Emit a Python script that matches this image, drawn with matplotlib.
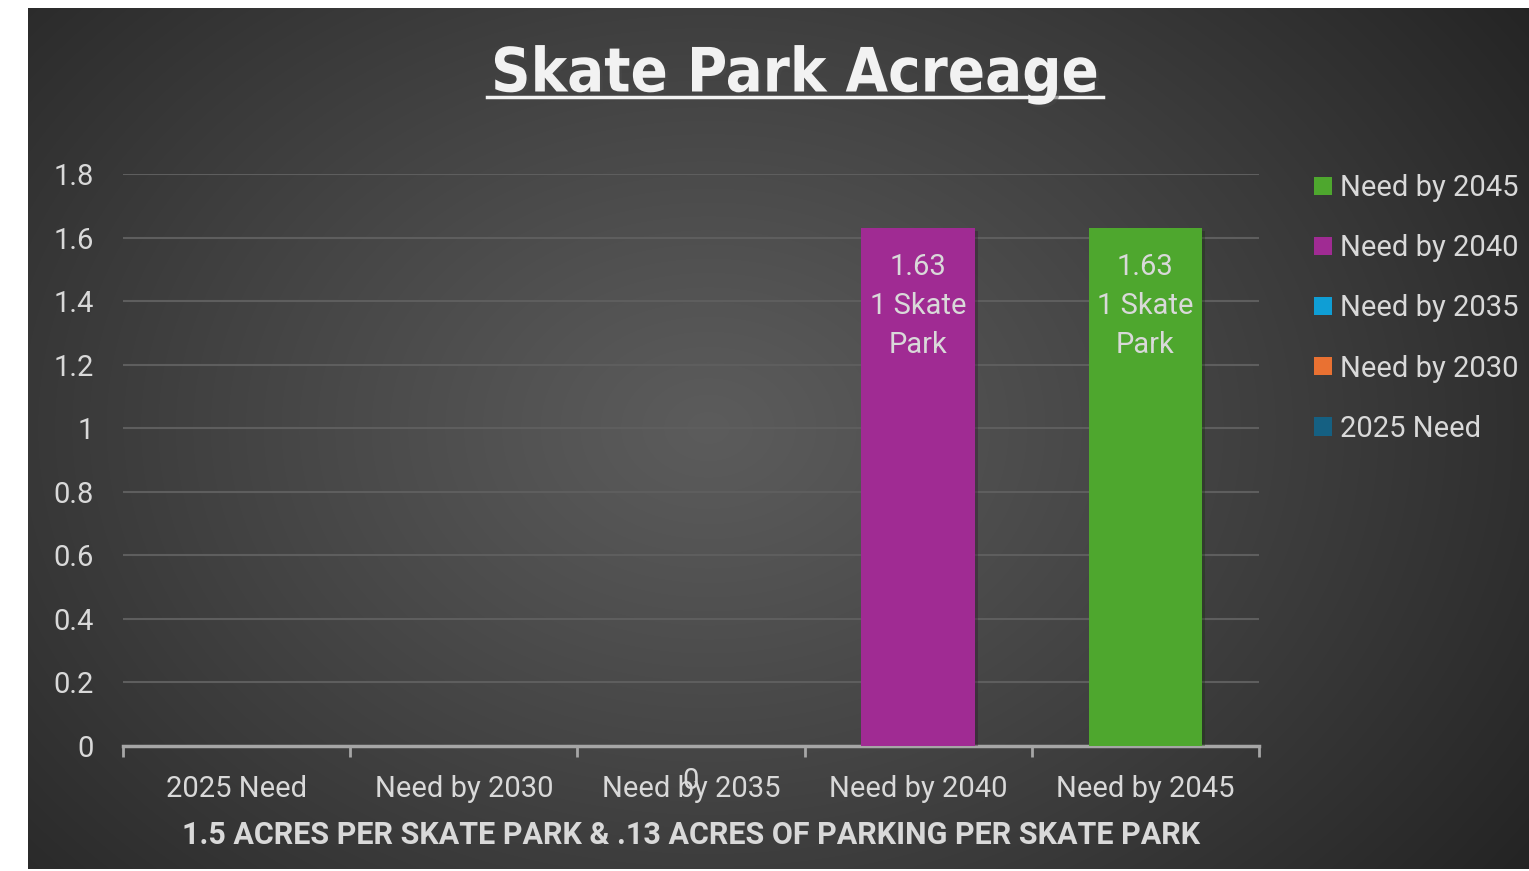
import numpy as np
import matplotlib
matplotlib.use("Agg")
import matplotlib.pyplot as plt
import matplotlib.patheffects as pe
from matplotlib.patches import Patch

# chart data
categories = ['2025 Need', 'Need by 2030', 'Need by 2035', 'Need by 2040', 'Need by 2045']
series_names = ['2025 Need', 'Need by 2030', 'Need by 2035', 'Need by 2040', 'Need by 2045']
series_values = [0, 0, 0, 1.63, 1.63]
series_colors = ['#156082', '#E97132', '#0F9ED5', '#A02B93', '#4EA72E']
bar_labels = ['', '', '0', '1.63\n1 Skate\nPark', '1.63\n1 Skate\nPark']
y_ticks = [0, 0.2, 0.4, 0.6, 0.8, 1, 1.2, 1.4, 1.6, 1.8]

plt.rcParams['font.family'] = ['Roboto', 'DejaVu Sans']
txt = '#d9d9d9'
W, H = 1529, 871
fig = plt.figure(figsize=(W / 100, H / 100), dpi=100)
fig.patch.set_facecolor('white')

# radial gradient panel
bg = fig.add_axes([28 / W, 2 / H, 1501 / W, 861 / H])
yy, xx = np.mgrid[0:861, 0:1501]
cx, cy = 680, 420
r = np.sqrt(((xx - cx) / 1.0) ** 2 + ((yy - cy) / 0.75) ** 2)
r = r / r.max()
shade = 0.36 - 0.22 * np.clip(r, 0, 1) ** 1.1
bg.imshow(np.dstack([shade] * 3), aspect='auto', interpolation='bilinear')
bg.set_axis_off()

ax = fig.add_axes([123 / W, 1 - 746 / H, (1259 - 123) / W, (746 - 174) / H])
ax.patch.set_alpha(0)
x = np.arange(len(categories))

# stacked columns, one series per category
bottom = np.zeros(len(categories))
for i, name in enumerate(series_names):
    vals = np.zeros(len(categories))
    vals[i] = series_values[i]
    ax.bar(x, vals, width=0.5, bottom=bottom, color=series_colors[i], zorder=3,
           path_effects=[pe.SimplePatchShadow(offset=(2, -2), alpha=0.35), pe.Normal()])
    bottom += vals

for i, lab in enumerate(bar_labels):
    if not lab:
        continue
    if series_values[i] > 0:
        ax.annotate(lab, (x[i], series_values[i]), xytext=(0, -18), textcoords='offset points',
                    ha='center', va='top', color=txt, fontsize=21, linespacing=1.5, zorder=4)
    else:
        ax.annotate(lab, (x[i], 0), xytext=(0, -25), textcoords='offset points',
                    ha='center', va='center', color=txt, fontsize=21, zorder=4,
                    annotation_clip=False)

ax.set_xlim(-0.5, len(categories) - 0.5)
ax.set_ylim(0, 1.8)
ax.set_yticks(y_ticks)
ax.set_yticklabels([f'{v:g}' for v in y_ticks])
ax.grid(axis='y', color='#5e5e5e', linewidth=1.5, zorder=0)
for s in ['top', 'right', 'left']:
    ax.spines[s].set_visible(False)
ax.spines['bottom'].set_color('#a6a6a6')
ax.spines['bottom'].set_linewidth(2.5)
ax.tick_params(axis='y', length=0, labelsize=21, labelcolor=txt, pad=21)
ax.set_xticks(np.arange(-0.5, len(categories)))
ax.set_xticklabels([])
ax.tick_params(axis='x', which='major', length=8, width=2, color='#a6a6a6', direction='out')
ax.set_xticks(x, minor=True)
ax.set_xticklabels(categories, minor=True)
ax.tick_params(axis='x', which='minor', length=0, labelsize=21, labelcolor=txt, pad=21)
ax.set_xlabel('1.5 ACRES PER SKATE PARK & .13 ACRES OF PARKING PER SKATE PARK',
              fontsize=22, fontweight='bold', color=txt, labelpad=12)

# legend (reversed order like the original)
handles = [Patch(facecolor=c, label=n) for n, c in zip(series_names, series_colors)][::-1]
leg = fig.legend(handles=handles, loc='upper left', bbox_to_anchor=(1288 / W, 1 - 148 / H),
                 frameon=False, fontsize=21, labelcolor=txt, handlelength=0.6, handleheight=0.6,
                 handletextpad=0.3, labelspacing=1.1)

# title with underline
t = fig.text(795 / W, 1 - 75 / H, 'Skate Park Acreage', ha='center', va='center',
             fontsize=44, fontweight='bold', color='#f2f2f2',
             family=['DejaVu Sans Condensed', 'DejaVu Sans'], fontstretch='condensed',
             path_effects=[pe.withSimplePatchShadow(offset=(2, -2), alpha=0.5)])
fig.add_artist(plt.Line2D([487 / W, 1103 / W], [1 - 97 / H, 1 - 97 / H], color='#f2f2f2',
                          linewidth=2.5, transform=fig.transFigure))

fig.savefig('out.png', dpi=100, facecolor=fig.get_facecolor())
